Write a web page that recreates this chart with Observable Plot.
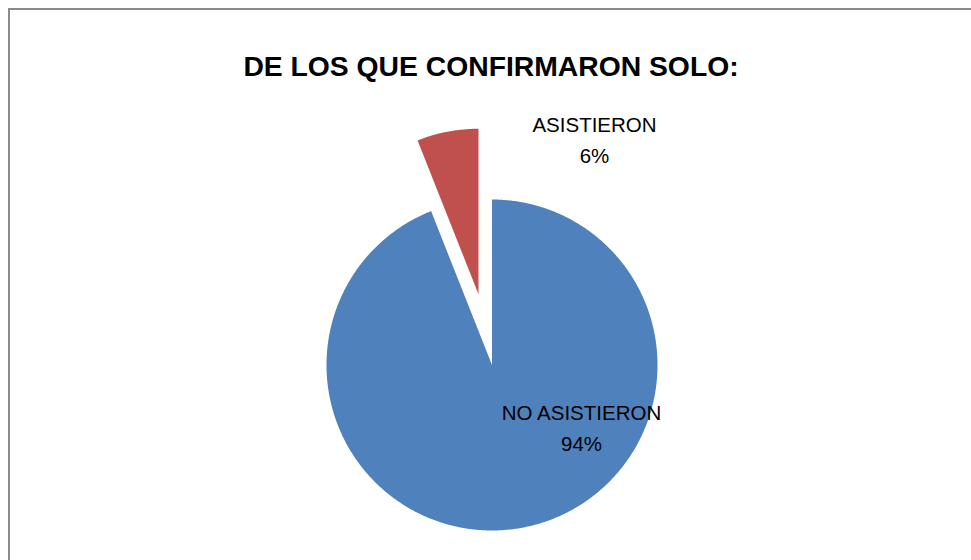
<!DOCTYPE html>
<html>
<head>
<meta charset="utf-8">
<script src="https://cdn.jsdelivr.net/npm/d3@7"></script>
<script src="https://cdn.jsdelivr.net/npm/@observablehq/plot@0.6"></script>
<style>
  html, body { margin: 0; padding: 0; background: #fff; overflow: hidden; }
  #wrap { position: relative; width: 971px; height: 560px; overflow: hidden; }
  #border { position: absolute; left: 8px; top: 8px; width: 1000px; height: 600px; border: 2px solid #8a8a8a; box-sizing: border-box; pointer-events: none; }
  #chart { position: absolute; left: 0; top: 0; }
</style>
</head>
<body>
<div id="wrap"><div id="chart"></div><div id="border"></div></div>
<script>
// ---- data ----
const title = "DE LOS QUE CONFIRMARON SOLO:";
const categories = ["NO ASISTIERON", "ASISTIERON"];
const values = [94, 6];
const pctLabels = ["94%", "6%"];

// ---- layout / style ----
const W = 971, H = 560;
const colors = {"NO ASISTIERON": "#4F81BD", "ASISTIERON": "#C0504D"};
const center = {x: 491.5, y: 364.5};
const radius = 165.5;
const explodeDist = {"NO ASISTIERON": 0, "ASISTIERON": 72};
// label anchor offsets (baseline of first line) relative to pie centre
const labelOffset = {"NO ASISTIERON": {dx: 89.5, dy: 54.5}, "ASISTIERON": {dx: 102.5, dy: -233.5}};
const lineGap = 31;

// ---- geometry from values ----
const total = d3.sum(values);
let cum = 0;
const slicePts = [];
categories.forEach((cat, i) => {
  const a0 = cum / total * 2 * Math.PI;
  cum += values[i];
  const a1 = cum / total * 2 * Math.PI;
  const mid = (a0 + a1) / 2;
  const ox = center.x + explodeDist[cat] * Math.sin(mid);
  const oy = center.y - explodeDist[cat] * Math.cos(mid);
  slicePts.push({cat, x: ox, y: oy});
  const n = Math.max(4, Math.ceil((a1 - a0) / (Math.PI / 360)));
  for (let k = 0; k <= n; k++) {
    const a = a0 + (a1 - a0) * k / n;
    slicePts.push({cat, x: ox + radius * Math.sin(a), y: oy - radius * Math.cos(a)});
  }
  slicePts.push({cat, x: ox, y: oy});
});

const labelRows = [];
categories.forEach((cat, i) => {
  const bx = center.x + labelOffset[cat].dx;
  const by = center.y + labelOffset[cat].dy;
  labelRows.push({text: cat, x: bx, y: by});
  labelRows.push({text: pctLabels[i], x: bx, y: by + lineGap});
});

const chart = Plot.plot({
  width: W, height: H,
  margin: 0,
  x: {domain: [0, W], range: [0, W], axis: null},
  y: {domain: [0, H], range: [0, H], axis: null},
  style: {background: "transparent"},
  marks: [
    Plot.line(slicePts, {x: "x", y: "y", z: "cat", fill: d => colors[d.cat], stroke: "none", curve: "linear-closed"}),
    Plot.text([title], {x: () => 490.5, y: () => 75, text: d => d, fontSize: 28.3, fontWeight: "bold", fontFamily: "Liberation Sans, Arial, sans-serif", fill: "#000", lineAnchor: "bottom", textAnchor: "middle"}),
    Plot.text(labelRows, {x: "x", y: "y", text: "text", fontSize: 20.5, fontFamily: "Liberation Sans, Arial, sans-serif", fill: "#000", lineAnchor: "bottom", textAnchor: "middle"})
  ]
});
document.getElementById("chart").appendChild(chart);
</script>
</body>
</html>
